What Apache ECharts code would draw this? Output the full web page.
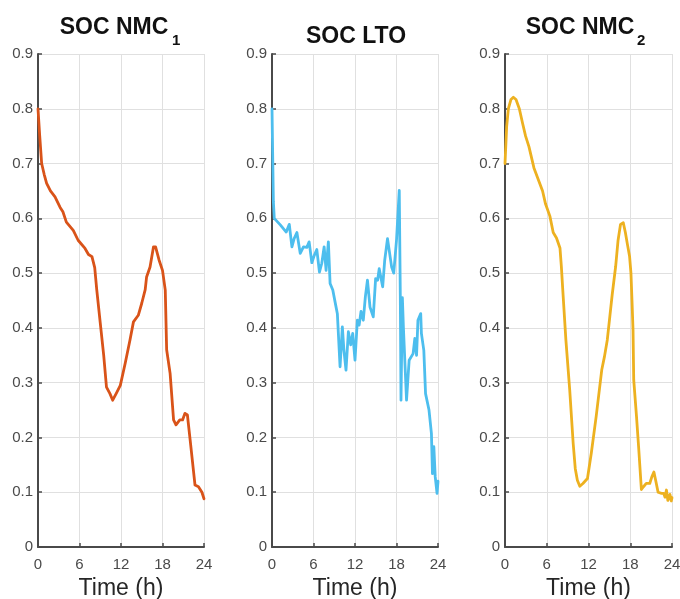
<!DOCTYPE html>
<html>
<head>
<meta charset="utf-8">
<script src="https://cdn.jsdelivr.net/npm/echarts@6/dist/echarts.min.js"></script>
<style>html,body{margin:0;padding:0;background:#fff;}#c{width:680px;height:599px;}</style>
</head>
<body>
<div id="c"></div>
<script>
// ---- data (time in h, SOC) ----
const xTicks = [0, 6, 12, 18, 24];
const yTicks = [0, 0.1, 0.2, 0.3, 0.4, 0.5, 0.6, 0.7, 0.8, 0.9];
const panelTitles = ['SOC NMC', 'SOC LTO', 'SOC NMC'];
const panelSubs = ['1', '', '2'];
const xName = 'Time (h)';

const socNMC1 = [[0,0.80],[0.25,0.75],[0.53,0.70],[0.9,0.68],[1.25,0.664],[1.8,0.65],[2.46,0.639],[3.2,0.62],[3.6,0.612],[4.1,0.593],[5.1,0.578],[5.8,0.56],[6.8,0.545],[7.3,0.534],[7.8,0.53],[8.2,0.51],[8.5,0.469],[9.0,0.409],[9.5,0.35],[9.9,0.292],[10.4,0.28],[10.8,0.268],[11.3,0.28],[11.9,0.295],[12.6,0.335],[13.3,0.378],[13.8,0.411],[14.5,0.423],[15.0,0.445],[15.5,0.47],[15.7,0.493],[16.2,0.511],[16.7,0.548],[17.0,0.548],[17.5,0.524],[18.0,0.505],[18.4,0.469],[18.6,0.36],[19.1,0.317],[19.6,0.232],[19.95,0.223],[20.5,0.232],[20.9,0.232],[21.25,0.244],[21.6,0.241],[22.0,0.195],[22.7,0.113],[23.2,0.11],[23.7,0.10],[24.0,0.088]];

const socLTO = [[0,0.80],[0.2,0.63],[0.33,0.60],[1.2,0.588],[2.06,0.575],[2.5,0.589],[2.88,0.548],[3.2,0.563],[3.6,0.574],[4.08,0.536],[4.55,0.548],[5.04,0.547],[5.37,0.557],[5.76,0.519],[6.1,0.532],[6.48,0.543],[6.86,0.502],[7.2,0.518],[7.54,0.548],[7.82,0.505],[8.15,0.557],[8.4,0.481],[8.79,0.469],[9.2,0.442],[9.45,0.426],[9.84,0.329],[10.17,0.402],[10.4,0.359],[10.7,0.323],[11.04,0.393],[11.38,0.369],[11.67,0.39],[12.0,0.341],[12.34,0.414],[12.6,0.405],[12.87,0.43],[13.2,0.414],[13.5,0.457],[13.8,0.487],[14.17,0.438],[14.64,0.42],[14.98,0.49],[15.27,0.487],[15.5,0.508],[15.75,0.511],[16.0,0.475],[16.3,0.524],[16.7,0.563],[16.95,0.566],[17.3,0.511],[17.6,0.5],[18.0,0.56],[18.4,0.651],[18.55,0.46],[18.65,0.268],[18.85,0.455],[19.0,0.40],[19.45,0.268],[19.83,0.341],[20.4,0.353],[20.65,0.381],[20.9,0.35],[21.1,0.414],[21.5,0.426],[21.6,0.39],[21.95,0.359],[22.2,0.28],[22.7,0.25],[23.05,0.207],[23.2,0.134],[23.4,0.183],[23.6,0.128],[23.86,0.098],[24.0,0.12]];

const socNMC2 = [[0,0.70],[0.24,0.768],[0.48,0.80],[0.86,0.817],[1.2,0.821],[1.58,0.817],[2.06,0.80],[2.5,0.775],[2.96,0.75],[3.44,0.731],[4.16,0.692],[4.78,0.671],[5.4,0.65],[5.83,0.626],[6.45,0.604],[6.93,0.574],[7.4,0.564],[7.9,0.546],[8.1,0.512],[8.3,0.47],[8.75,0.378],[9.3,0.287],[9.8,0.189],[10.1,0.143],[10.4,0.122],[10.75,0.111],[11.2,0.116],[11.85,0.125],[12.4,0.171],[13.1,0.238],[13.9,0.323],[14.3,0.348],[14.7,0.378],[15.06,0.42],[15.4,0.46],[15.9,0.512],[16.25,0.56],[16.6,0.589],[17.0,0.592],[17.3,0.574],[17.6,0.552],[17.9,0.531],[18.1,0.50],[18.25,0.45],[18.4,0.396],[18.5,0.305],[18.9,0.238],[19.2,0.183],[19.6,0.105],[19.9,0.11],[20.3,0.116],[20.8,0.116],[21.1,0.128],[21.4,0.137],[21.65,0.122],[22.0,0.1],[22.5,0.098],[22.8,0.098],[23.0,0.091],[23.2,0.104],[23.4,0.085],[23.7,0.096],[23.9,0.084],[24.0,0.09]];

const seriesData = [socNMC1, socLTO, socNMC2];
const colors = ['#D95319', '#4DBEEE', '#EDB120'];

// ---- layout ----
const grids = [
  {left: 38, top: 54, width: 166, height: 493},
  {left: 272, top: 54, width: 166, height: 493},
  {left: 505, top: 54, width: 167, height: 493}
];
const titlePos = [
  {x: 114, y: 28, sx: 172, sy: 41},
  {x: 356, y: 37, sx: 0, sy: 0},
  {x: 580, y: 28, sx: 637, sy: 41}
];

const axisColor = '#4a4a4a';
const fontFam = 'Liberation Sans, Arial, sans-serif';

const option = {
  animation: false,
  backgroundColor: '#fff',
  grid: grids.map(g => Object.assign({containLabel: false, outerBoundsMode: 'none'}, g)),
  xAxis: grids.map((g, i) => ({
    gridIndex: i, type: 'value', min: xTicks[0], max: xTicks[xTicks.length - 1], interval: 6,
    name: xName, nameLocation: 'middle', nameGap: 29,
    nameTextStyle: {fontFamily: fontFam, fontSize: 23, color: '#262626'},
    axisLine: {show: true, onZero: false, lineStyle: {color: axisColor, width: 2}},
    axisTick: {show: true, inside: true, length: 4, lineStyle: {color: axisColor, width: 1.5}},
    axisLabel: {fontFamily: fontFam, fontSize: 15, color: axisColor, margin: 10},
    splitLine: {show: true, lineStyle: {color: '#e0e0e0', width: 1}}
  })),
  yAxis: grids.map((g, i) => ({
    gridIndex: i, type: 'value', min: yTicks[0], max: yTicks[yTicks.length - 1], interval: 0.1,
    axisLine: {show: true, onZero: false, lineStyle: {color: axisColor, width: 2}},
    axisTick: {show: true, inside: true, length: 4, lineStyle: {color: axisColor, width: 1.5}},
    axisLabel: {fontFamily: fontFam, fontSize: 15, color: axisColor, margin: 5,
      formatter: v => (Math.abs(v) < 1e-9 ? '0' : v.toFixed(1))},
    splitLine: {show: true, lineStyle: {color: '#e0e0e0', width: 1}}
  })),
  series: seriesData.map((d, i) => ({
    type: 'line', xAxisIndex: i, yAxisIndex: i, data: d,
    showSymbol: false, symbol: 'none', smooth: false,
    lineStyle: {color: colors[i], width: 2.8, join: 'round', cap: 'round'}
  })),
  graphic: panelTitles.flatMap((t, i) => {
    const p = titlePos[i];
    const els = [{
      type: 'text', x: p.x, y: p.y, silent: true,
      style: {text: t, fill: '#111', font: 'bold 23px ' + fontFam, align: 'center', verticalAlign: 'middle'}
    }];
    if (panelSubs[i]) {
      els.push({
        type: 'text', x: p.sx, y: p.sy, silent: true,
        style: {text: panelSubs[i], fill: '#111', font: 'bold 15px ' + fontFam, align: 'left', verticalAlign: 'middle'}
      });
    }
    return els;
  })
};

const chart = echarts.init(document.getElementById('c'), null, {renderer: 'canvas'});
chart.setOption(option);
</script>
</body>
</html>
